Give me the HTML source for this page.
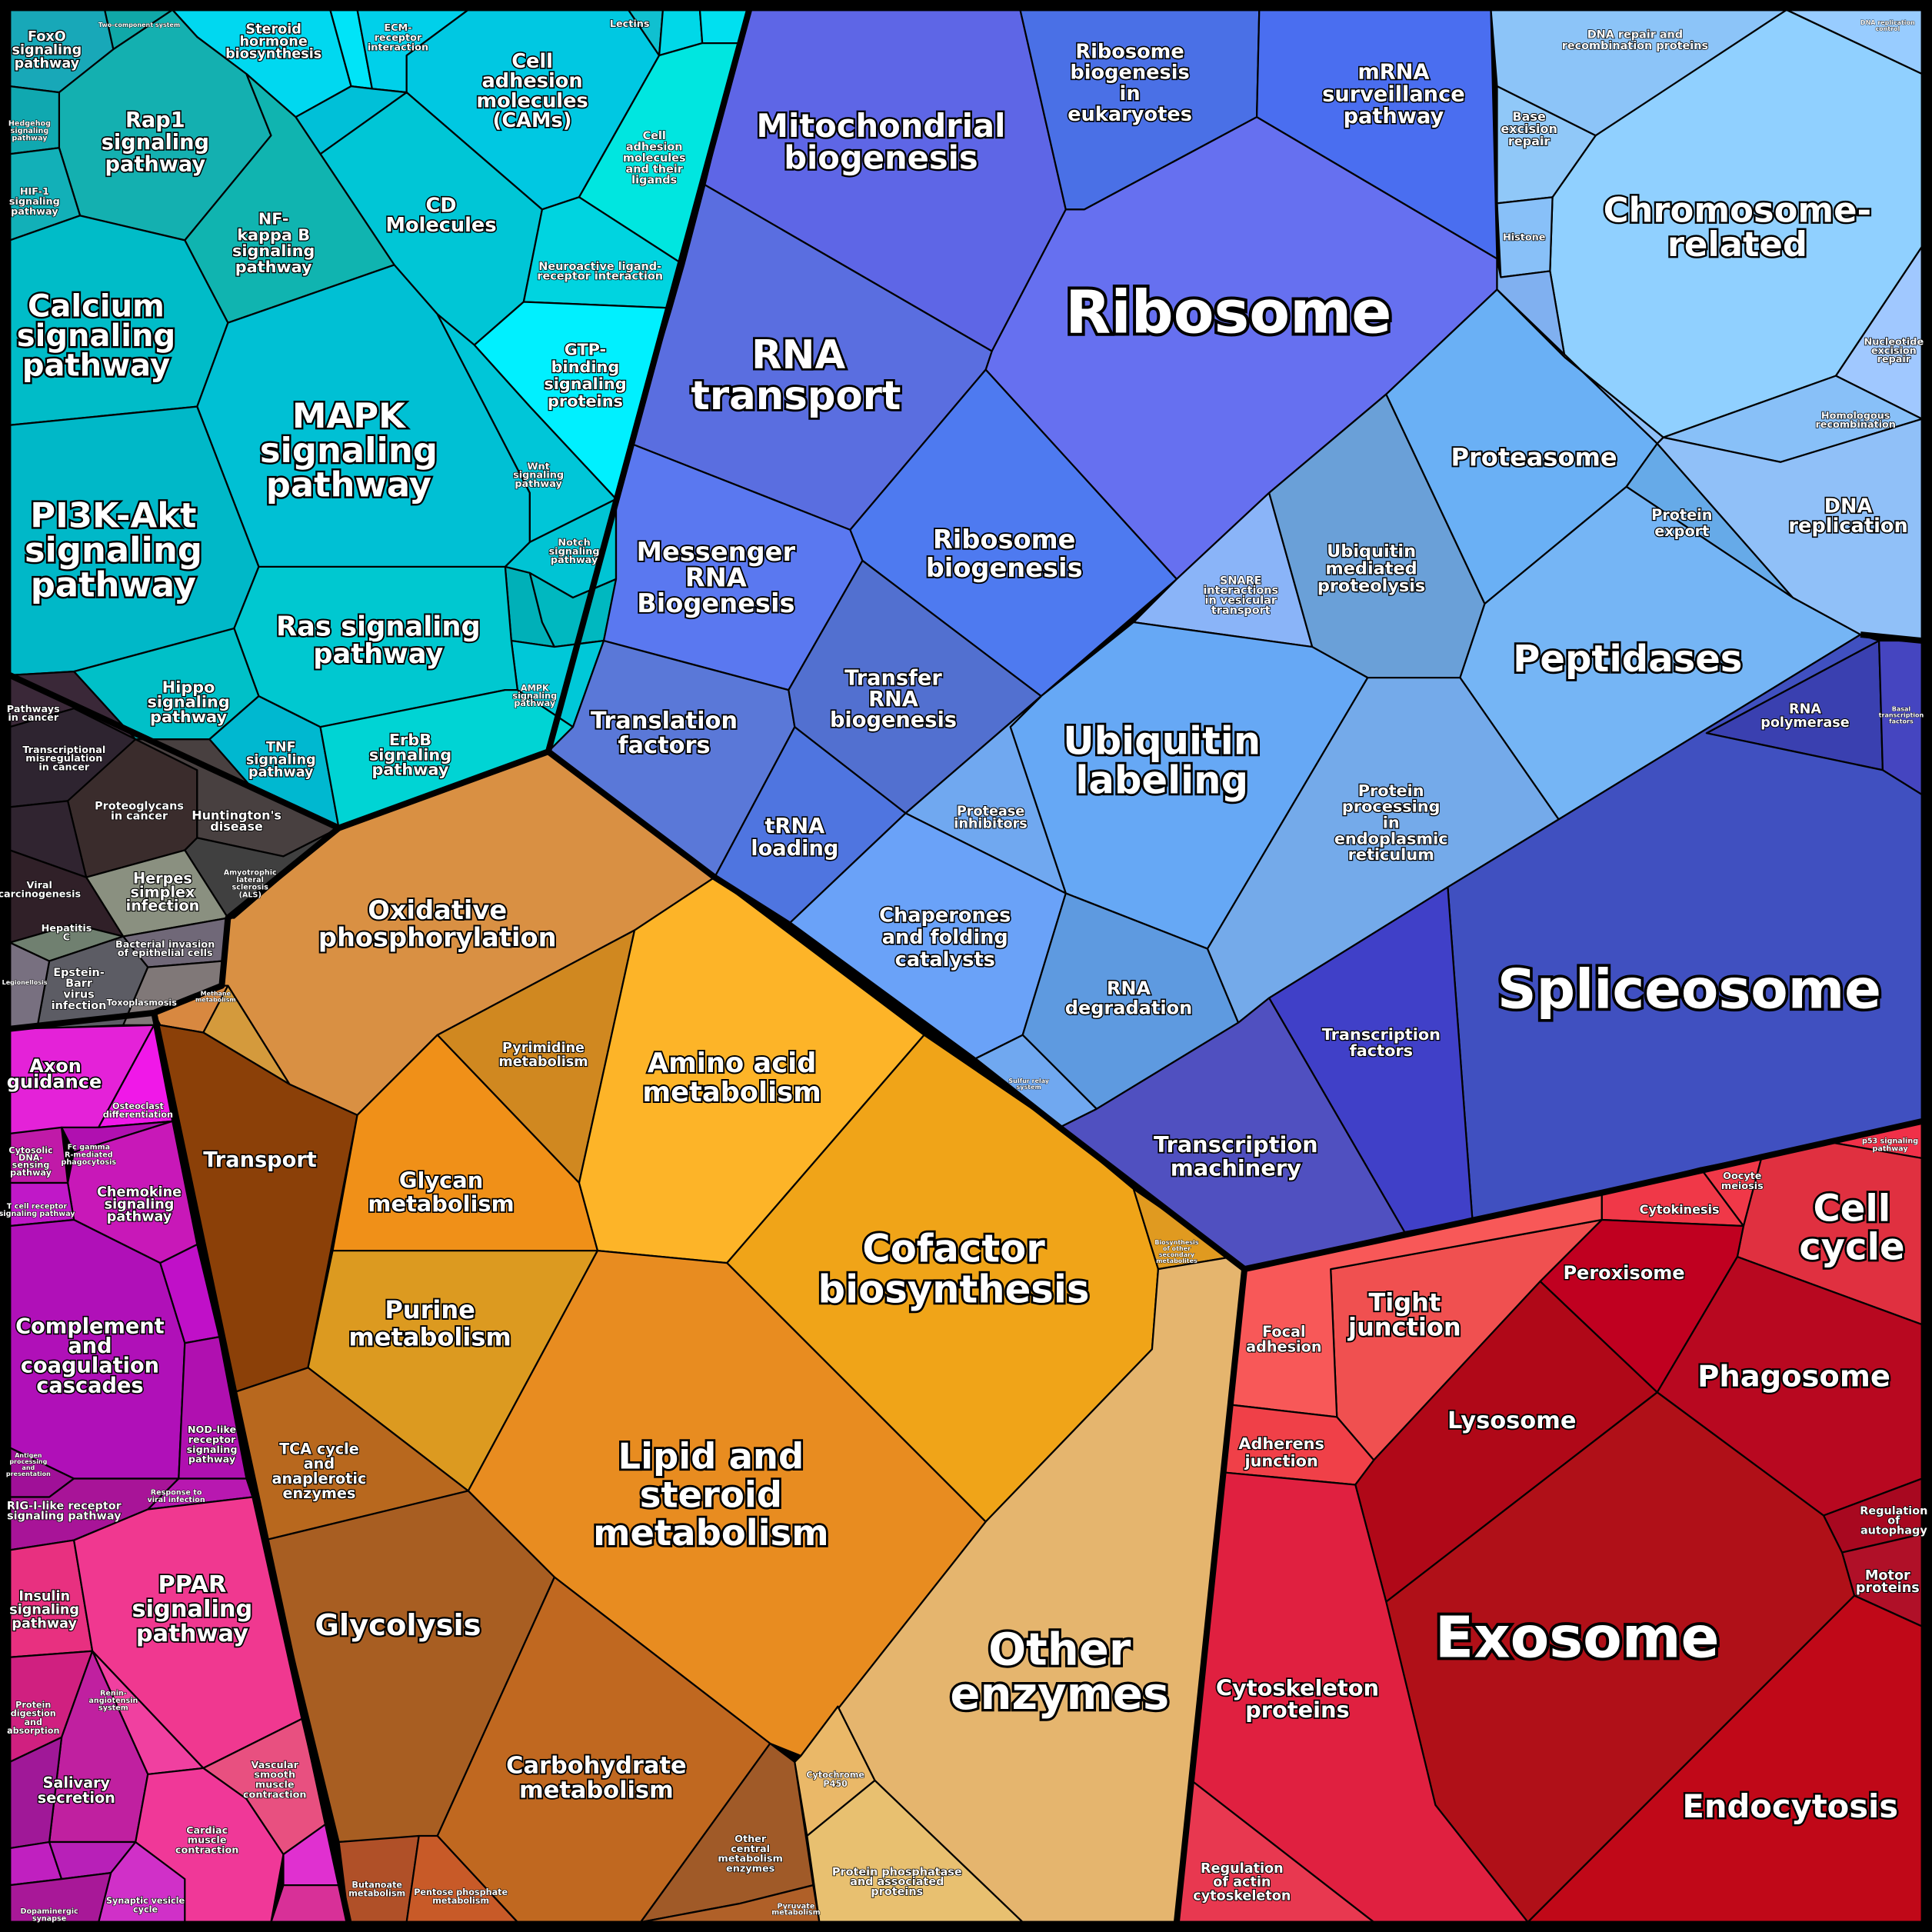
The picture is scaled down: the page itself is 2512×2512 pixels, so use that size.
<!DOCTYPE html>
<html><head><meta charset="utf-8"><style>
html,body{margin:0;padding:0;background:#000;}
svg{display:block}
text{font-family:"DejaVu Sans","Liberation Sans",sans-serif;font-weight:bold;fill:#fff;stroke:#000;paint-order:stroke;text-anchor:middle;}
.c polygon{stroke:#000;stroke-width:1.4;stroke-linejoin:round}
.g{fill:none;stroke:#000;stroke-width:5;stroke-linejoin:round}
</style></head><body>
<svg width="2512" height="2512" viewBox="0 0 1568 1568" xmlns="http://www.w3.org/2000/svg">
<rect x="0" y="0" width="1568" height="1568" fill="#000"/>
<g class="c">
<!-- cyan group -->
<polygon fill="#18a8b8" points="8,8 85,8 92,40 48,75 8,70"/>
<polygon fill="#10a8a8" points="85,8 140,8 92,40"/>
<polygon fill="#00d8f0" points="140,8 268,8 285,70 240,95 200,60 160,30"/>
<polygon fill="#00e4f8" points="268,8 290,8 302,72 285,70"/>
<polygon fill="#00d0ea" points="290,8 380,8 330,45 330,75 302,72"/>
<polygon fill="#00c8e2" points="380,8 510,8 535,45 470,160 440,170 330,75 330,45"/>
<polygon fill="#10c0d0" points="510,8 538,8 535,45"/>
<polygon fill="#00d8e8" points="538,8 568,8 570,35 535,45"/>
<polygon fill="#00e0f0" points="568,8 608,8 600,35 570,35"/>
<polygon fill="#00e6e0" points="535,45 570,35 600,35 555,215 470,160"/>
<polygon fill="#00c0d8" points="240,95 285,70 302,72 330,75 260,125"/>
<polygon fill="#00c6d6" points="260,125 330,75 440,170 425,245 385,280 355,255 320,215"/>
<polygon fill="#00d4e0" points="440,170 470,160 555,215 545,250 425,245"/>
<polygon fill="#00f0ff" points="385,280 425,245 545,250 500,405 430,330"/>
<polygon fill="#14b0b0" points="48,75 92,40 140,8 160,30 200,60 220,110 150,195 65,175 48,120"/>
<polygon fill="#10a8b0" points="8,70 48,75 48,120 8,125"/>
<polygon fill="#12b0b8" points="8,125 48,120 65,175 8,195"/>
<polygon fill="#10b4b0" points="150,195 220,110 200,60 240,95 260,125 320,215 185,262"/>
<polygon fill="#00bcc8" points="8,195 65,175 150,195 185,262 160,330 8,345"/>
<polygon fill="#00c0d4" points="160,330 185,262 320,215 355,255 430,400 430,440 410,460 210,460"/>
<polygon fill="#00b8c8" points="8,345 160,330 210,460 190,510 60,545 8,548"/>
<polygon fill="#00c6d8" points="355,255 385,280 430,330 500,405 430,440 430,400"/>
<polygon fill="#00c4d4" points="410,460 430,440 500,405 500,470 465,485 430,465"/>
<polygon fill="#00b0b8" points="410,460 430,465 440,505 450,525 415,520"/>
<polygon fill="#00b8c0" points="440,505 430,465 465,485 500,470 490,520 450,525"/>
<polygon fill="#00c8d8" points="415,520 450,525 490,520 465,590 420,560"/>
<polygon fill="#00c8d0" points="190,510 210,460 410,460 415,520 420,560 410,560 260,590 210,565"/>
<polygon fill="#00c0c8" points="60,545 190,510 210,565 170,600 110,600"/>
<polygon fill="#00b8d0" points="170,600 210,565 260,590 275,672 205,640"/>
<polygon fill="#00d4d4" points="260,590 410,560 420,560 465,590 445,610 275,672"/>
<!-- gray group -->
<polygon fill="#3a2838" points="8,548 60,545 110,600 60,575 8,590"/>
<polygon fill="#2e2430" points="8,590 60,575 110,600 90,640 55,650 8,655"/>
<polygon fill="#3a2c2c" points="55,650 110,600 160,625 160,680 150,690 70,712"/>
<polygon fill="#302430" points="8,655 55,650 70,712 8,690"/>
<polygon fill="#484040" points="160,625 110,600 170,600 205,640 275,672 230,695 160,680"/>
<polygon fill="#404040" points="150,690 160,680 230,695 275,672 185,745"/>
<polygon fill="#8a9080" points="70,712 150,690 185,745 100,760"/>
<polygon fill="#302028" points="8,690 70,712 100,760 60,750 8,765"/>
<polygon fill="#708070" points="8,765 60,750 100,760 40,780"/>
<polygon fill="#706878" points="100,760 185,745 180,780 120,785"/>
<polygon fill="#5c5c64" points="40,780 100,760 120,785 100,832 30,835"/>
<polygon fill="#807878" points="100,832 120,785 180,780 185,800 130,832"/>
<polygon fill="#787080" points="8,765 40,780 30,835 8,835"/>
<!-- magenta group -->
<polygon fill="#e422d8" points="8,835 125,832 80,915 8,920"/>
<polygon fill="#f018e8" points="80,915 125,832 140,910"/>
<polygon fill="#c01aa8" points="8,920 50,915 55,960 8,960"/>
<polygon fill="#b010b0" points="50,915 80,915 140,910 60,935"/>
<polygon fill="#c818b8" points="55,960 60,935 140,910 160,1010 130,1025 60,990"/>
<polygon fill="#c018c8" points="8,960 55,960 60,990 8,995"/>
<polygon fill="#b010b8" points="8,995 60,990 130,1025 150,1090 145,1200 60,1200 8,1175"/>
<polygon fill="#c010c8" points="130,1025 160,1010 178,1085 150,1090"/>
<polygon fill="#b010b0" points="150,1090 178,1085 200,1200 145,1200"/>
<polygon fill="#a01098" points="8,1175 60,1200 40,1215 8,1215"/>
<polygon fill="#b818b0" points="145,1200 200,1200 205,1215 120,1225"/>
<polygon fill="#a81498" points="8,1215 40,1215 60,1200 145,1200 120,1225 60,1250 8,1258"/>
<polygon fill="#e83080" points="8,1258 60,1250 75,1340 8,1345"/>
<polygon fill="#f03890" points="60,1250 120,1225 205,1215 245,1395 165,1435 75,1340"/>
<polygon fill="#f040a0" points="75,1340 165,1435 120,1440"/>
<polygon fill="#d02080" points="8,1345 75,1340 50,1410 8,1430"/>
<polygon fill="#c020a0" points="50,1410 75,1340 120,1440 110,1495 40,1495"/>
<polygon fill="#e85080" points="165,1435 245,1395 265,1480 230,1505 200,1460"/>
<polygon fill="#f03898" points="110,1495 120,1440 165,1435 200,1460 230,1505 220,1560 150,1560 90,1520"/>
<polygon fill="#a01898" points="8,1430 50,1410 40,1495 8,1500"/>
<polygon fill="#c020c0" points="8,1500 40,1495 50,1525 8,1530"/>
<polygon fill="#b820b8" points="40,1495 110,1495 90,1520 50,1525"/>
<polygon fill="#d030c8" points="90,1520 110,1495 150,1525 150,1560 80,1560"/>
<polygon fill="#a81898" points="8,1530 50,1525 90,1520 80,1560 8,1560"/>
<polygon fill="#e030d0" points="230,1505 265,1480 275,1530 230,1530"/>
<polygon fill="#d83098" points="230,1530 275,1530 283,1560 220,1560"/>
<!-- orange group -->
<polygon fill="#d99043" points="275,672 445,610 580,712 515,755 355,840 290,905 235,880 185,800 180,800 185,745 190,745"/>
<polygon fill="#d88840" points="125,822 180,800 185,800 165,838 130,832"/>
<polygon fill="#d49a3c" points="165,838 185,800 235,880"/>
<polygon fill="#8b4008" points="125,822 130,832 165,838 235,880 290,905 250,1110 190,1130"/>
<polygon fill="#d08820" points="355,840 515,755 470,960"/>
<polygon fill="#f09018" points="290,905 355,840 470,960 485,1015 270,1015"/>
<polygon fill="#fdb428" points="515,755 580,712 750,840 590,1025 485,1015 470,960"/>
<polygon fill="#f0a418" points="750,840 860,915 920,965 940,1030 935,1095 800,1235 590,1025"/>
<polygon fill="#e09a20" points="920,965 1000,1020 940,1030"/>
<polygon fill="#dc9a20" points="270,1015 485,1015 380,1210 250,1110"/>
<polygon fill="#e88c20" points="485,1015 590,1025 800,1235 650,1425 625,1415 450,1280 380,1210"/>
<polygon fill="#b8681e" points="190,1130 250,1110 380,1210 215,1250"/>
<polygon fill="#a85e22" points="215,1250 380,1210 450,1280 355,1490 275,1495"/>
<polygon fill="#c06820" points="450,1280 625,1415 520,1560 420,1560 355,1490"/>
<polygon fill="#b05028" points="275,1495 340,1490 330,1560 283,1560"/>
<polygon fill="#c85a28" points="340,1490 355,1490 420,1560 330,1560"/>
<polygon fill="#a05a28" points="625,1415 645,1430 660,1530 600,1545 520,1560"/>
<polygon fill="#b06028" points="600,1545 660,1530 665,1560 520,1560"/>
<polygon fill="#e5b56e" points="650,1425 800,1235 935,1095 940,1030 1000,1020 1010,1030 955,1560 830,1560 710,1445 680,1385"/>
<polygon fill="#eab868" points="645,1430 650,1425 680,1385 710,1445 655,1490"/>
<polygon fill="#e8c070" points="655,1490 710,1445 830,1560 665,1560"/>
<!-- blue group -->
<polygon fill="#5e66e6" points="608,8 828,8 865,170 805,285 572,150 600,35"/>
<polygon fill="#4a70e6" points="828,8 1022,8 1020,95 880,170 865,170"/>
<polygon fill="#4a6ef0" points="1022,8 1210,8 1215,210 1020,95"/>
<polygon fill="#6670f0" points="865,170 880,170 1020,95 1215,210 1215,235 1125,320 1030,400 955,470 800,300 805,285"/>
<polygon fill="#5a6ee0" points="572,150 805,285 800,300 690,430 512,360 545,250 555,215"/>
<polygon fill="#5a78f0" points="512,360 690,430 700,455 640,560 490,520 500,470 500,405"/>
<polygon fill="#4e7af0" points="690,430 800,300 955,470 845,565 700,455"/>
<polygon fill="#5a78d8" points="490,520 640,560 645,590 580,712 445,610 465,590"/>
<polygon fill="#5270d0" points="640,560 700,455 845,565 735,660 645,590"/>
<polygon fill="#4f75e0" points="580,712 645,590 735,660 640,750"/>
<polygon fill="#8ab4f8" points="920,505 955,470 1030,400 1065,525"/>
<polygon fill="#6aa0d8" points="1030,400 1125,320 1205,490 1185,550 1110,550 1065,525"/>
<polygon fill="#66a8f5" points="845,565 920,505 1065,525 1110,550 980,770 865,725 820,590"/>
<polygon fill="#70a8f0" points="735,660 845,565 820,590 865,725"/>
<polygon fill="#6aa2f8" points="640,750 735,660 865,725 830,840 790,860"/>
<polygon fill="#5e9ae0" points="865,725 980,770 1005,830 890,900 830,840"/>
<polygon fill="#70a8f0" points="790,860 830,840 890,900 860,915"/>
<polygon fill="#6ab0f5" points="1125,320 1215,235 1345,360 1320,395 1205,490"/>
<polygon fill="#66aae8" points="1320,395 1345,360 1455,485"/>
<polygon fill="#75b5f5" points="1185,550 1205,490 1320,395 1455,485 1510,515 1265,665"/>
<polygon fill="#74aaea" points="1110,550 1185,550 1265,665 1175,720 1030,810 1005,830 980,770"/>
<polygon fill="#90d0ff" points="1258,220 1260,160 1295,110 1365,60 1450,8 1560,60 1560,200 1490,305 1350,355 1270,290"/>
<polygon fill="#8cc4f8" points="1210,8 1450,8 1295,110 1215,70"/>
<polygon fill="#98ccff" points="1450,8 1560,8 1560,60"/>
<polygon fill="#90c8f8" points="1215,70 1295,110 1260,160 1215,165"/>
<polygon fill="#88c0f8" points="1215,165 1260,160 1258,220 1218,225"/>
<polygon fill="#80b0f0" points="1215,210 1218,225 1258,220 1270,290 1215,235"/>
<polygon fill="#a0c8ff" points="1490,305 1560,200 1560,340"/>
<polygon fill="#88c0f8" points="1350,355 1490,305 1560,340 1445,375"/>
<polygon fill="#90c0f8" points="1215,235 1270,290 1350,355 1345,360"/>
<polygon fill="#90c0f8" points="1345,360 1350,355 1445,375 1560,340 1560,520 1510,515 1455,485"/>
<polygon fill="#3a40b0" points="1385,595 1525,520 1528,625"/>
<polygon fill="#4545c0" points="1525,520 1560,520 1560,645 1528,625"/>
<polygon fill="#4050c0" points="1175,720 1265,665 1510,515 1525,520 1385,595 1528,625 1560,645 1560,910 1195,990"/>
<polygon fill="#4040c8" points="1030,810 1175,720 1195,990 1140,1000"/>
<polygon fill="#5050c0" points="860,915 890,900 1005,830 1030,810 1140,1000 1010,1030"/>
<!-- red group -->
<polygon fill="#f03048" points="1485,927 1560,910 1560,940"/>
<polygon fill="#e03040" points="1430,938 1485,927 1560,940 1560,1075 1410,1020 1415,995"/>
<polygon fill="#f03848" points="1380,948 1430,938 1415,995"/>
<polygon fill="#f03848" points="1300,968 1380,948 1415,995 1300,990"/>
<polygon fill="#f05050" points="1080,1030 1300,990 1250,1040 1115,1185 1085,1150"/>
<polygon fill="#f85858" points="1010,1030 1300,968 1300,990 1080,1030 1085,1150 998,1140"/>
<polygon fill="#f04048" points="998,1140 1085,1150 1115,1185 1100,1205 993,1195"/>
<polygon fill="#c00020" points="1250,1040 1300,990 1415,995 1410,1020 1345,1130"/>
<polygon fill="#b80820" points="1345,1130 1410,1020 1560,1075 1560,1200 1480,1230"/>
<polygon fill="#b00818" points="1100,1205 1115,1185 1250,1040 1345,1130 1125,1300"/>
<polygon fill="#a80820" points="1480,1230 1560,1200 1560,1245 1495,1260"/>
<polygon fill="#b01028" points="1495,1260 1560,1245 1560,1320 1505,1295"/>
<polygon fill="#b01018" points="1125,1300 1345,1130 1480,1230 1495,1260 1505,1295 1240,1560 1165,1465"/>
<polygon fill="#c00818" points="1240,1560 1505,1295 1560,1320 1560,1560"/>
<polygon fill="#e02040" points="993,1195 1100,1205 1125,1300 1165,1465 1240,1560 1115,1560 967,1445"/>
<polygon fill="#e83850" points="967,1445 1115,1560 955,1560"/>
</g>
<!-- group boundaries -->
<polyline class="g" points="608,8 445,610 275,672 8,548"/>
<polyline class="g" points="275,672 185,745 180,800 125,822 8,835"/>
<polyline class="g" points="125,822 190,1130 283,1560"/>
<polyline class="g" points="445,610 580,712 640,750 790,860 860,915 1010,1030 955,1560"/>
<polyline class="g" points="1010,1030 1300,968 1560,910"/>
<polyline class="g" points="1510,515 1560,520"/>
<rect x="5" y="5" width="1558" height="1558" fill="none" stroke="#000" stroke-width="8"/>
<!-- labels -->
<g>
<text x="38" y="33" font-size="11" stroke-width="1.5">FoxO<tspan x="38" dy="11">signaling</tspan><tspan x="38" dy="11">pathway</tspan></text>
<text x="113" y="22" font-size="5" stroke-width="0.5">Two-component system</text>
<text x="222" y="27" font-size="11" stroke-width="1.5">Steroid<tspan x="222" dy="10">hormone</tspan><tspan x="222" dy="10">biosynthesis</tspan></text>
<text x="323" y="25" font-size="8" stroke-width="1">ECM-<tspan x="323" dy="8">receptor</tspan><tspan x="323" dy="8">interaction</tspan></text>
<text x="432" y="55" font-size="16" stroke-width="2">Cell<tspan x="432" dy="16">adhesion</tspan><tspan x="432" dy="16">molecules</tspan><tspan x="432" dy="16">(CAMs)</tspan></text>
<text x="511" y="22" font-size="8" stroke-width="1">Lectins</text>
<text x="531" y="113" font-size="9" stroke-width="1">Cell<tspan x="531" dy="9">adhesion</tspan><tspan x="531" dy="9">molecules</tspan><tspan x="531" dy="9">and their</tspan><tspan x="531" dy="9">ligands</tspan></text>
<text x="126" y="103" font-size="17" stroke-width="2">Rap1<tspan x="126" dy="18">signaling</tspan><tspan x="126" dy="18">pathway</tspan></text>
<text x="24" y="102" font-size="6" stroke-width="0.7">Hedgehog<tspan x="24" dy="6">signaling</tspan><tspan x="24" dy="6">pathway</tspan></text>
<text x="28" y="158" font-size="8" stroke-width="1">HIF-1<tspan x="28" dy="8">signaling</tspan><tspan x="28" dy="8">pathway</tspan></text>
<text x="222" y="182" font-size="13" stroke-width="1.6">NF-<tspan x="222" dy="13">kappa B</tspan><tspan x="222" dy="13">signaling</tspan><tspan x="222" dy="13">pathway</tspan></text>
<text x="358" y="172" font-size="16" stroke-width="2">CD<tspan x="358" dy="16">Molecules</tspan></text>
<text x="487" y="219" font-size="9" stroke-width="1">Neuroactive ligand-<tspan x="487" dy="8">receptor interaction</tspan></text>
<text x="475" y="288" font-size="13" stroke-width="1.6">GTP-<tspan x="475" dy="14">binding</tspan><tspan x="475" dy="14">signaling</tspan><tspan x="475" dy="14">proteins</tspan></text>
<text x="78" y="257" font-size="25" stroke-width="3">Calcium<tspan x="78" dy="24">signaling</tspan><tspan x="78" dy="24">pathway</tspan></text>
<text x="283" y="347" font-size="28" stroke-width="3">MAPK<tspan x="283" dy="28">signaling</tspan><tspan x="283" dy="28">pathway</tspan></text>
<text x="92" y="428" font-size="28" stroke-width="3">PI3K-Akt<tspan x="92" dy="28">signaling</tspan><tspan x="92" dy="28">pathway</tspan></text>
<text x="437" y="381" font-size="8" stroke-width="1">Wnt<tspan x="437" dy="7">signaling</tspan><tspan x="437" dy="7">pathway</tspan></text>
<text x="466" y="443" font-size="8" stroke-width="1">Notch<tspan x="466" dy="7">signaling</tspan><tspan x="466" dy="7">pathway</tspan></text>
<text x="434" y="561" font-size="7" stroke-width="0.8">AMPK<tspan x="434" dy="6">signaling</tspan><tspan x="434" dy="6">pathway</tspan></text>
<text x="307" y="516" font-size="22" stroke-width="2.5">Ras signaling<tspan x="307" dy="22">pathway</tspan></text>
<text x="153" y="562" font-size="13" stroke-width="1.6">Hippo<tspan x="153" dy="12">signaling</tspan><tspan x="153" dy="12">pathway</tspan></text>
<text x="228" y="610" font-size="11" stroke-width="1.4">TNF<tspan x="228" dy="10">signaling</tspan><tspan x="228" dy="10">pathway</tspan></text>
<text x="333" y="605" font-size="13" stroke-width="1.6">ErbB<tspan x="333" dy="12">signaling</tspan><tspan x="333" dy="12">pathway</tspan></text>
<text x="27" y="578" font-size="8" stroke-width="1">Pathways<tspan x="27" dy="7">in cancer</tspan></text>
<text x="52" y="611" font-size="8" stroke-width="1">Transcriptional<tspan x="52" dy="7">misregulation</tspan><tspan x="52" dy="7">in cancer</tspan></text>
<text x="113" y="657" font-size="9" stroke-width="1">Proteoglycans<tspan x="113" dy="8">in cancer</tspan></text>
<text x="192" y="665" font-size="10" stroke-width="1.2">Huntington's<tspan x="192" dy="9">disease</tspan></text>
<text x="203" y="710" font-size="6" stroke-width="0.7">Amyotrophic<tspan x="203" dy="6">lateral</tspan><tspan x="203" dy="6">sclerosis</tspan><tspan x="203" dy="6">(ALS)</tspan></text>
<text x="132" y="717" font-size="12" stroke-width="1.4">Herpes<tspan x="132" dy="11">simplex</tspan><tspan x="132" dy="11">infection</tspan></text>
<text x="32" y="721" font-size="8" stroke-width="1">Viral<tspan x="32" dy="7">carcinogenesis</tspan></text>
<text x="54" y="756" font-size="8" stroke-width="1">Hepatitis<tspan x="54" dy="7">C</tspan></text>
<text x="134" y="769" font-size="8" stroke-width="1">Bacterial invasion<tspan x="134" dy="7">of epithelial cells</tspan></text>
<text x="64" y="792" font-size="9" stroke-width="1">Epstein-<tspan x="64" dy="9">Barr</tspan><tspan x="64" dy="9">virus</tspan><tspan x="64" dy="9">infection</tspan></text>
<text x="115" y="816" font-size="7" stroke-width="0.8">Toxoplasmosis</text>
<text x="20" y="799" font-size="5" stroke-width="0.5">Legionellosis</text>
<text x="45" y="870" font-size="15" stroke-width="2">Axon<tspan x="44" dy="13">guidance</tspan></text>
<text x="112" y="900" font-size="7" stroke-width="0.8">Osteoclast<tspan x="112" dy="7">differentiation</tspan></text>
<text x="25" y="936" font-size="7" stroke-width="0.8">Cytosolic<tspan x="25" dy="6">DNA-</tspan><tspan x="25" dy="6">sensing</tspan><tspan x="25" dy="6">pathway</tspan></text>
<text x="72" y="933" font-size="6" stroke-width="0.7">Fc gamma<tspan x="72" dy="6">R-mediated</tspan><tspan x="72" dy="6">phagocytosis</tspan></text>
<text x="113" y="971" font-size="11" stroke-width="1.4">Chemokine<tspan x="113" dy="10">signaling</tspan><tspan x="113" dy="10">pathway</tspan></text>
<text x="30" y="981" font-size="6" stroke-width="0.7">T cell receptor<tspan x="30" dy="6">signaling pathway</tspan></text>
<text x="73" y="1082" font-size="17" stroke-width="2">Complement<tspan x="73" dy="16">and</tspan><tspan x="73" dy="16">coagulation</tspan><tspan x="73" dy="16">cascades</tspan></text>
<text x="172" y="1163" font-size="8" stroke-width="1">NOD-like<tspan x="172" dy="8">receptor</tspan><tspan x="172" dy="8">signaling</tspan><tspan x="172" dy="8">pathway</tspan></text>
<text x="23" y="1183" font-size="5" stroke-width="0.5">Antigen<tspan x="23" dy="5">processing</tspan><tspan x="23" dy="5">and</tspan><tspan x="23" dy="5">presentation</tspan></text>
<text x="143" y="1213" font-size="6" stroke-width="0.6">Response to<tspan x="143" dy="6">viral infection</tspan></text>
<text x="52" y="1225" font-size="9" stroke-width="1">RIG-I-like receptor<tspan x="52" dy="8">signaling pathway</tspan></text>
<text x="36" y="1299" font-size="11" stroke-width="1.4">Insulin<tspan x="36" dy="11">signaling</tspan><tspan x="36" dy="11">pathway</tspan></text>
<text x="156" y="1292" font-size="19" stroke-width="2.2">PPAR<tspan x="156" dy="20">signaling</tspan><tspan x="156" dy="20">pathway</tspan></text>
<text x="92" y="1376" font-size="6" stroke-width="0.7">Renin-<tspan x="92" dy="6">angiotensin</tspan><tspan x="92" dy="6">system</tspan></text>
<text x="27" y="1386" font-size="7" stroke-width="0.8">Protein<tspan x="27" dy="7">digestion</tspan><tspan x="27" dy="7">and</tspan><tspan x="27" dy="7">absorption</tspan></text>
<text x="62" y="1451" font-size="12" stroke-width="1.5">Salivary<tspan x="62" dy="12">secretion</tspan></text>
<text x="223" y="1435" font-size="8" stroke-width="1">Vascular<tspan x="223" dy="8">smooth</tspan><tspan x="223" dy="8">muscle</tspan><tspan x="223" dy="8">contraction</tspan></text>
<text x="168" y="1488" font-size="8" stroke-width="1">Cardiac<tspan x="168" dy="8">muscle</tspan><tspan x="168" dy="8">contraction</tspan></text>
<text x="118" y="1545" font-size="7" stroke-width="0.8">Synaptic vesicle<tspan x="118" dy="7">cycle</tspan></text>
<text x="40" y="1553" font-size="6" stroke-width="0.6">Dopaminergic<tspan x="40" dy="6">synapse</tspan></text>
<text x="355" y="746" font-size="21" stroke-width="2.5">Oxidative<tspan x="355" dy="22">phosphorylation</tspan></text>
<text x="175" y="808" font-size="5" stroke-width="0.5">Methane<tspan x="175" dy="5">metabolism</tspan></text>
<text x="211" y="947" font-size="17" stroke-width="2">Transport</text>
<text x="441" y="854" font-size="11" stroke-width="1.4">Pyrimidine<tspan x="441" dy="11">metabolism</tspan></text>
<text x="594" y="870" font-size="22" stroke-width="2.5">Amino acid<tspan x="594" dy="24">metabolism</tspan></text>
<text x="358" y="964" font-size="18" stroke-width="2.2">Glycan<tspan x="358" dy="19">metabolism</tspan></text>
<text x="774" y="1024" font-size="31" stroke-width="3.5">Cofactor<tspan x="774" dy="33">biosynthesis</tspan></text>
<text x="955" y="1010" font-size="5" stroke-width="0.5">Biosynthesis<tspan x="955" dy="5">of other</tspan><tspan x="955" dy="5">secondary</tspan><tspan x="955" dy="5">metabolites</tspan></text>
<text x="349" y="1070" font-size="20" stroke-width="2.4">Purine<tspan x="349" dy="22">metabolism</tspan></text>
<text x="577" y="1192" font-size="29" stroke-width="3.4">Lipid and<tspan x="577" dy="31">steroid</tspan><tspan x="577" dy="31">metabolism</tspan></text>
<text x="259" y="1180" font-size="12" stroke-width="1.5">TCA cycle<tspan x="259" dy="12">and</tspan><tspan x="259" dy="12">anaplerotic</tspan><tspan x="259" dy="12">enzymes</tspan></text>
<text x="323" y="1327" font-size="24" stroke-width="2.8">Glycolysis</text>
<text x="484" y="1439" font-size="19" stroke-width="2.3">Carbohydrate<tspan x="484" dy="20">metabolism</tspan></text>
<text x="306" y="1532" font-size="7" stroke-width="0.8">Butanoate<tspan x="306" dy="7">metabolism</tspan></text>
<text x="374" y="1538" font-size="7" stroke-width="0.8">Pentose phosphate<tspan x="374" dy="7">metabolism</tspan></text>
<text x="609" y="1495" font-size="8" stroke-width="1">Other<tspan x="609" dy="8">central</tspan><tspan x="609" dy="8">metabolism</tspan><tspan x="609" dy="8">enzymes</tspan></text>
<text x="646" y="1549" font-size="6" stroke-width="0.6">Pyruvate<tspan x="646" dy="5">metabolism</tspan></text>
<text x="860" y="1351" font-size="36" stroke-width="4">Other<tspan x="860" dy="36">enzymes</tspan></text>
<text x="678" y="1443" font-size="7" stroke-width="0.8">Cytochrome<tspan x="678" dy="7">P450</tspan></text>
<text x="728" y="1522" font-size="9" stroke-width="1">Protein phosphatase<tspan x="728" dy="8">and associated</tspan><tspan x="728" dy="8">proteins</tspan></text>
<text x="715" y="111" font-size="26" stroke-width="3">Mitochondrial<tspan x="715" dy="26">biogenesis</tspan></text>
<text x="917" y="47" font-size="16" stroke-width="2">Ribosome<tspan x="917" dy="17">biogenesis</tspan><tspan x="917" dy="17">in</tspan><tspan x="917" dy="17">eukaryotes</tspan></text>
<text x="1131" y="64" font-size="17" stroke-width="2">mRNA<tspan x="1131" dy="18">surveillance</tspan><tspan x="1131" dy="18">pathway</tspan></text>
<text x="997" y="270" font-size="48" stroke-width="5">Ribosome</text>
<text x="648" y="299" font-size="32" stroke-width="3.5">RNA<tspan x="646" dy="33">transport</tspan></text>
<text x="581" y="455" font-size="21" stroke-width="2.4">Messenger<tspan x="581" dy="21">RNA</tspan><tspan x="581" dy="21">Biogenesis</tspan></text>
<text x="815" y="445" font-size="21" stroke-width="2.4">Ribosome<tspan x="815" dy="23">biogenesis</tspan></text>
<text x="539" y="591" font-size="19" stroke-width="2.3">Translation<tspan x="539" dy="20">factors</tspan></text>
<text x="725" y="556" font-size="17" stroke-width="2">Transfer<tspan x="725" dy="17">RNA</tspan><tspan x="725" dy="17">biogenesis</tspan></text>
<text x="645" y="676" font-size="17" stroke-width="2">tRNA<tspan x="645" dy="18">loading</tspan></text>
<text x="1007" y="474" font-size="9" stroke-width="1">SNARE<tspan x="1007" dy="8">interactions</tspan><tspan x="1007" dy="8">in vesicular</tspan><tspan x="1007" dy="8">transport</tspan></text>
<text x="1113" y="452" font-size="14" stroke-width="1.7">Ubiquitin<tspan x="1113" dy="14">mediated</tspan><tspan x="1113" dy="14">proteolysis</tspan></text>
<text x="943" y="612" font-size="31" stroke-width="3.5">Ubiquitin<tspan x="943" dy="32">labeling</tspan></text>
<text x="804" y="662" font-size="11" stroke-width="1.3">Protease<tspan x="804" dy="10">inhibitors</tspan></text>
<text x="767" y="748" font-size="16" stroke-width="2">Chaperones<tspan x="767" dy="18">and folding</tspan><tspan x="767" dy="18">catalysts</tspan></text>
<text x="916" y="807" font-size="15" stroke-width="1.8">RNA<tspan x="916" dy="16">degradation</tspan></text>
<text x="835" y="879" font-size="5" stroke-width="0.5">Sulfur relay<tspan x="835" dy="5">system</tspan></text>
<text x="1245" y="378" font-size="20" stroke-width="2.4">Proteasome</text>
<text x="1365" y="422" font-size="12" stroke-width="1.5">Protein<tspan x="1365" dy="13">export</tspan></text>
<text x="1321" y="545" font-size="30" stroke-width="3.4">Peptidases</text>
<text x="1129" y="646" font-size="13" stroke-width="1.6">Protein<tspan x="1129" dy="13">processing</tspan><tspan x="1129" dy="13">in</tspan><tspan x="1129" dy="13">endoplasmic</tspan><tspan x="1129" dy="13">reticulum</tspan></text>
<text x="1410" y="180" font-size="28" stroke-width="3">Chromosome-<tspan x="1410" dy="28">related</tspan></text>
<text x="1327" y="31" font-size="9" stroke-width="1">DNA repair and<tspan x="1327" dy="9">recombination proteins</tspan></text>
<text x="1532" y="20" font-size="5" stroke-width="0.5">DNA replication<tspan x="1532" dy="5">control</tspan></text>
<text x="1241" y="98" font-size="10" stroke-width="1.2">Base<tspan x="1241" dy="10">excision</tspan><tspan x="1241" dy="10">repair</tspan></text>
<text x="1237" y="195" font-size="8" stroke-width="1">Histone</text>
<text x="1537" y="280" font-size="8" stroke-width="1">Nucleotide<tspan x="1537" dy="7">excision</tspan><tspan x="1537" dy="7">repair</tspan></text>
<text x="1506" y="340" font-size="8" stroke-width="1">Homologous<tspan x="1506" dy="7">recombination</tspan></text>
<text x="1500" y="416" font-size="16" stroke-width="2">DNA<tspan x="1500" dy="16">replication</tspan></text>
<text x="1465" y="579" font-size="11" stroke-width="1.3">RNA<tspan x="1465" dy="11">polymerase</tspan></text>
<text x="1543" y="577" font-size="5" stroke-width="0.5">Basal<tspan x="1543" dy="5">transcription</tspan><tspan x="1543" dy="5">factors</tspan></text>
<text x="1371" y="818" font-size="44" stroke-width="4.6">Spliceosome</text>
<text x="1121" y="844" font-size="13" stroke-width="1.6">Transcription<tspan x="1121" dy="13">factors</tspan></text>
<text x="1003" y="935" font-size="18" stroke-width="2.2">Transcription<tspan x="1003" dy="19">machinery</tspan></text>
<text x="1534" y="928" font-size="6" stroke-width="0.6">p53 signaling<tspan x="1534" dy="6">pathway</tspan></text>
<text x="1503" y="991" font-size="30" stroke-width="3.4">Cell<tspan x="1503" dy="31">cycle</tspan></text>
<text x="1414" y="957" font-size="8" stroke-width="1">Oocyte<tspan x="1414" dy="8">meiosis</tspan></text>
<text x="1363" y="985" font-size="10" stroke-width="1.2">Cytokinesis</text>
<text x="1140" y="1064" font-size="20" stroke-width="2.4">Tight<tspan x="1140" dy="20">junction</tspan></text>
<text x="1042" y="1085" font-size="12" stroke-width="1.4">Focal<tspan x="1042" dy="12">adhesion</tspan></text>
<text x="1040" y="1176" font-size="13" stroke-width="1.6">Adherens<tspan x="1040" dy="14">junction</tspan></text>
<text x="1318" y="1038" font-size="15" stroke-width="1.8">Peroxisome</text>
<text x="1456" y="1125" font-size="24" stroke-width="2.8">Phagosome</text>
<text x="1227" y="1159" font-size="19" stroke-width="2.3">Lysosome</text>
<text x="1537" y="1229" font-size="9" stroke-width="1">Regulation<tspan x="1537" dy="8">of</tspan><tspan x="1537" dy="8">autophagy</tspan></text>
<text x="1532" y="1282" font-size="11" stroke-width="1.3">Motor<tspan x="1532" dy="10">proteins</tspan></text>
<text x="1280" y="1345" font-size="46" stroke-width="4.8">Exosome</text>
<text x="1453" y="1475" font-size="26" stroke-width="3">Endocytosis</text>
<text x="1053" y="1376" font-size="18" stroke-width="2.2">Cytoskeleton<tspan x="1053" dy="18">proteins</tspan></text>
<text x="1008" y="1520" font-size="11" stroke-width="1.3">Regulation<tspan x="1008" dy="11">of actin</tspan><tspan x="1008" dy="11">cytoskeleton</tspan></text>
</g>
</svg>
</body></html>
